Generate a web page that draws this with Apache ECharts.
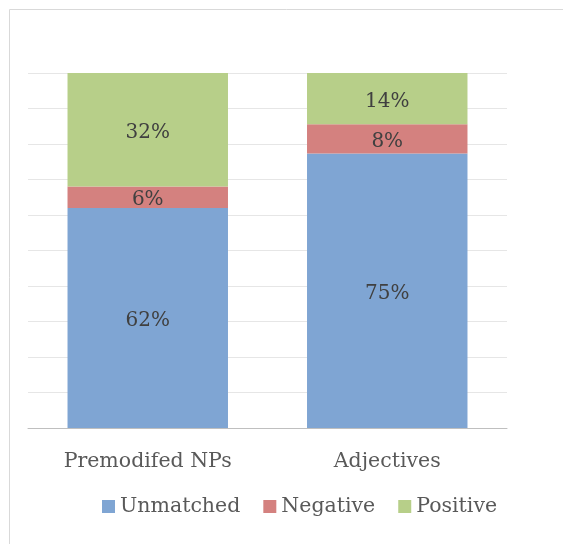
<!DOCTYPE html>
<html>
<head>
<meta charset="utf-8">
<script src="https://cdn.jsdelivr.net/npm/echarts@6/dist/echarts.min.js"></script>
<style>
  html, body { margin: 0; padding: 0; background: #fff; }
  #chart { width: 563px; height: 544px; }
</style>
</head>
<body>
<div id="chart"></div>
<script>
const categories = ['Premodifed NPs', 'Adjectives'];
const unmatched = [62, 75];
const negative = [6, 8];
const positive = [32, 14];
const seriesNames = ['Unmatched', 'Negative', 'Positive'];
const colors = ['#7fa5d3', '#d4817f', '#b7cf89'];

// 100% stacked: bars are scaled to the category total, labels show the raw value
const raw = [unmatched, negative, positive];
const totals = categories.map((c, i) => raw.reduce((s, arr) => s + arr[i], 0));

const font = 'DejaVu Serif';
const chart = echarts.init(document.getElementById('chart'));

const series = raw.map((arr, k) => ({
  name: seriesNames[k],
  type: 'bar',
  stack: 'total',
  barWidth: '67%',
  itemStyle: { color: colors[k] },
  label: {
    show: true,
    position: 'inside',
    offset: [0, 3],
    color: '#404040',
    fontFamily: font,
    fontSize: 20,
    formatter: p => arr[p.dataIndex] + '%'
  },
  data: arr.map((v, i) => v / totals[i] * 100)
}));

chart.setOption({
  animation: false,
  color: colors,
  graphic: [{
    type: 'rect',
    shape: { x: 9.5, y: 9.5, width: 600, height: 600 },
    style: { fill: 'none', stroke: '#d9d9d9', lineWidth: 1 }
  }],
  grid: { left: 28, right: 56, top: 73, bottom: 116 },
  legend: {
    bottom: 22,
    left: 97,
    itemWidth: 13,
    itemHeight: 13,
    itemGap: 23,
    icon: 'rect',
    textStyle: { color: '#595959', fontFamily: font, fontSize: 20.5 },
    data: seriesNames
  },
  xAxis: {
    type: 'category',
    data: categories,
    axisLine: { lineStyle: { color: '#bfbfbf', width: 1 } },
    axisTick: { show: false },
    axisLabel: { color: '#595959', fontFamily: font, fontSize: 20.5, margin: 23 }
  },
  yAxis: {
    type: 'value',
    min: 0,
    max: 100,
    interval: 10,
    axisLabel: { show: false },
    axisLine: { show: false },
    axisTick: { show: false },
    splitLine: { lineStyle: { color: '#e6e6e6', width: 1 } }
  },
  series: series
});
</script>
</body>
</html>
